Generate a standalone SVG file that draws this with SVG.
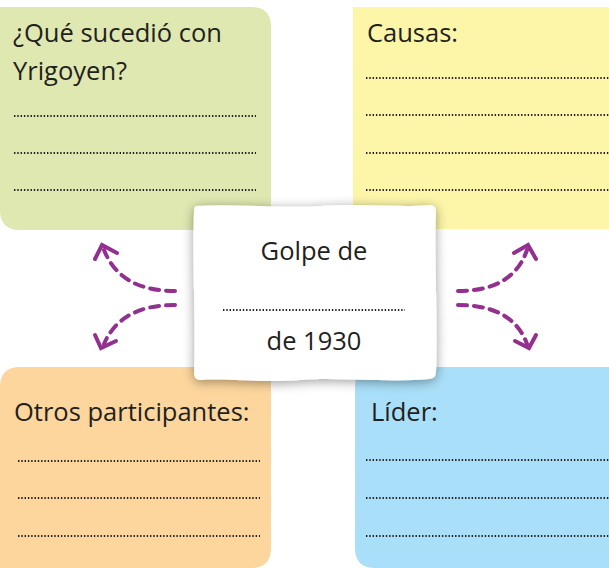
<svg xmlns="http://www.w3.org/2000/svg" width="609" height="568" viewBox="0 0 609 568">
<defs>
<style>
.t{font-family:"Open Sans","Noto Sans","DejaVu Sans",sans-serif;font-size:25.5px;fill:#231f20}
.dot{stroke:#231f20;stroke-width:2;stroke-dasharray:1.4 1.9;fill:none}
.arr{stroke:#93308f;stroke-width:4;stroke-linecap:round;fill:none}
.dash{stroke-dasharray:9 7}
</style>
<filter id="sh" x="-20%" y="-20%" width="140%" height="140%">
<feGaussianBlur in="SourceAlpha" stdDeviation="6"/>
<feOffset dx="0" dy="2" result="b"/>
<feComponentTransfer><feFuncA type="linear" slope="0.4"/></feComponentTransfer>
<feMerge><feMergeNode/><feMergeNode in="SourceGraphic"/></feMerge>
</filter>
</defs>
<rect width="609" height="568" fill="#ffffff"/>
<g id="node-yrigoyen">
<path d="M0 7 H251 Q271 7 271 27 V210 Q271 230 251 230 H20 Q0 230 0 210 Z" fill="#dfe8b1"/>
<text class="t" x="13" y="42">¿Qué sucedió con</text>
<text class="t" x="13" y="80">Yrigoyen?</text>
<line class="dot" x1="14" y1="116" x2="256" y2="116"/>
<line class="dot" x1="14" y1="153" x2="256" y2="153"/>
<line class="dot" x1="14" y1="190" x2="256" y2="190"/>
</g>
<g id="node-causas">
<path d="M353 7 H609 V229 H373 Q353 229 353 209 Z" fill="#fdf5a8"/>
<text class="t" x="367" y="42">Causas:</text>
<line class="dot" x1="366" y1="78" x2="609" y2="78"/>
<line class="dot" x1="366" y1="115" x2="609" y2="115"/>
<line class="dot" x1="366" y1="153" x2="609" y2="153"/>
<line class="dot" x1="366" y1="190" x2="609" y2="190"/>
</g>
<g id="node-otros">
<path d="M0 387 Q0 367 20 367 H271 V548 Q271 568 251 568 H0 Z" fill="#fdd69d"/>
<text class="t" x="14" y="421">Otros participantes:</text>
<line class="dot" x1="18" y1="461" x2="260" y2="461"/>
<line class="dot" x1="18" y1="498" x2="260" y2="498"/>
<line class="dot" x1="18" y1="536" x2="260" y2="536"/>
</g>
<g id="node-lider">
<path d="M375 367 H609 V568 H375 Q355 568 355 548 V387 Q355 367 375 367 Z" fill="#a9dff8"/>
<text class="t" x="371" y="421">Líder:</text>
<line class="dot" x1="366" y1="460" x2="609" y2="460"/>
<line class="dot" x1="366" y1="498" x2="609" y2="498"/>
<line class="dot" x1="366" y1="536" x2="609" y2="536"/>
</g>
<g id="node-golpe">
<path d="M196 206 C240 203 280 209 320 206 C360 203 400 208 430 205 Q436 205 436 212 C434 260 438 320 436 372 Q436 379 429 379 C390 383 340 377 300 380 C260 383 230 378 200 380 Q194 380 194 373 C196 320 192 260 194 212 Q194 206 196 206 Z" fill="#ffffff" filter="url(#sh)"/>
<text class="t" x="314" y="260" text-anchor="middle">Golpe de</text>
<line class="dot" x1="223" y1="310" x2="405" y2="310"/>
<text class="t" x="314" y="350" text-anchor="middle">de 1930</text>
</g>
<g id="connectors">
<path class="arr dash" d="M175 291 C150 291 118 285 104 250"/>
<path class="arr" d="M95 259 L102 245 L117 253"/>
<path class="arr dash" d="M175 305 C150 305 118 311 104 344"/>
<path class="arr" d="M95 335 L101 348 L116 341"/>
<path class="arr dash" d="M458 291 C483 291 515 285 527 250"/>
<path class="arr" d="M536 259 L528 245 L514 253"/>
<path class="arr dash" d="M458 305 C483 305 515 311 527 344"/>
<path class="arr" d="M536 335 L529 348 L515 341"/>
</g>
</svg>
